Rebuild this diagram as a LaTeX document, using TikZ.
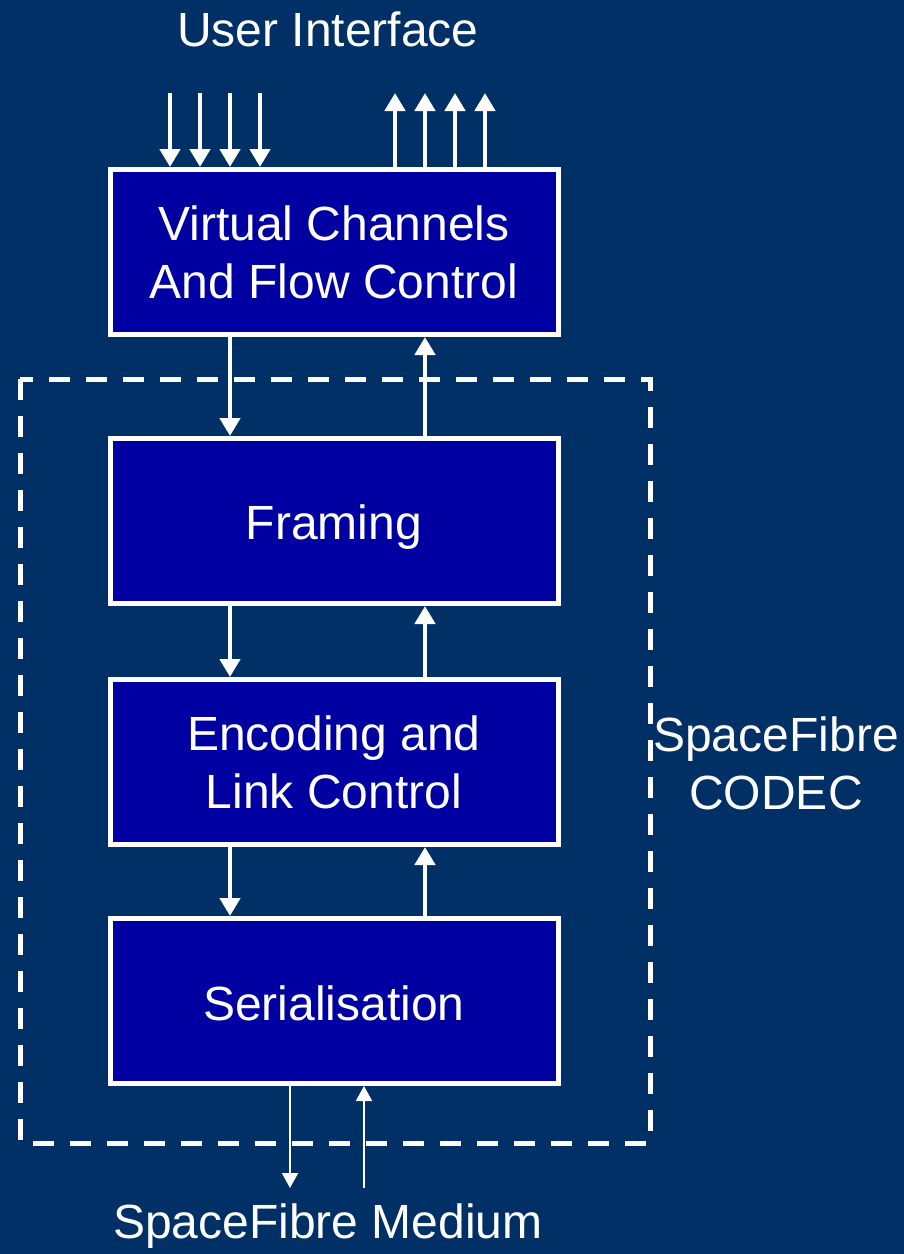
\documentclass[tikz,border=0pt]{standalone}
\usepackage{fontspec}
\setmainfont{Liberation Sans}
\usetikzlibrary{arrows.meta,calc}
\definecolor{bgblue}{RGB}{0,48,102}
\definecolor{boxblue}{RGB}{0,0,162}

\begin{document}
\begin{tikzpicture}[x=0.5pt,y=-0.5pt,line cap=butt,line join=miter,
	layer/.style={draw=white,line width=2.5pt,fill=boxblue,minimum width=224pt,minimum height=82.5pt,
		inner sep=0pt,align=center,text=white,font=\fontsize{24}{29}\selectfont},
	label/.style={text=white,align=center,inner sep=0pt,font=\fontsize{24}{29}\selectfont},
	flow/.style={draw=white,line width=2.4pt,-{Triangle[length=9pt,width=10pt]}},
	thin/.style={draw=white,line width=1pt,-{Triangle[length=7.5pt,width=8pt]}}]
	\fill[bgblue] (0,0) rectangle (904,1254);
	\useasboundingbox (0,0) rectangle (904,1254);
	% codec border
	\draw [white,line width=2.5pt,dash pattern=on 10.5pt off 8pt] (20,379) rectangle (650,1143);
	% layers
	\node[layer] (vc) at (334,252) {Virtual Channels\\And Flow Control};
	\node[layer,yshift=0pt] (fr) at (334,521) {\raisebox{-3pt}[\height][\depth]{Framing}};
	\node[layer] (en) at (334,762) {Encoding and\\Link Control};
	\node[layer] (se) at (334,1001) {\raisebox{-1pt}[\height][\depth]{Serialisation}};
	% labels
	\node[label] (ui) at (328,29) {User Interface};
	\node[label] (med) at (328,1226) {SpaceFibre Medium};
	\node[label] (codec) at (776,763) {SpaceFibre\\CODEC};
	\coordinate (uitop) at (334,93);
	\coordinate (medbot) at (334,1188);
	% user interface arrows
	\foreach \dx in {-164,-134,-104,-74}
		\draw [flow] ($(uitop)+(\dx,0)$) -- ($(vc.north)+(\dx,0)$);
	\foreach \dx in {61,91,121,151}
		\draw [flow] ($(vc.north)+(\dx,0)$) -- ($(uitop)+(\dx,0)$);
	% between layers
	\draw [flow] ($(vc.south)+(-104,0)$) -- ($(fr.north)+(-104,0)$);
	\draw [flow] ($(fr.north)+(91,0)$) -- ($(vc.south)+(91,0)$);
	\draw [flow] ($(fr.south)+(-104,0)$) -- ($(en.north)+(-104,0)$);
	\draw [flow] ($(en.north)+(91,0)$) -- ($(fr.south)+(91,0)$);
	\draw [flow] ($(en.south)+(-104,0)$) -- ($(se.north)+(-104,0)$);
	\draw [flow] ($(se.north)+(91,0)$) -- ($(en.south)+(91,0)$);
	% medium
	\draw [thin] ($(se.south)+(-44,0)$) -- ($(medbot)+(-44,0)$);
	\draw [thin] ($(medbot)+(30,0)$) -- ($(se.south)+(30,0)$);
\end{tikzpicture}
\end{document}
